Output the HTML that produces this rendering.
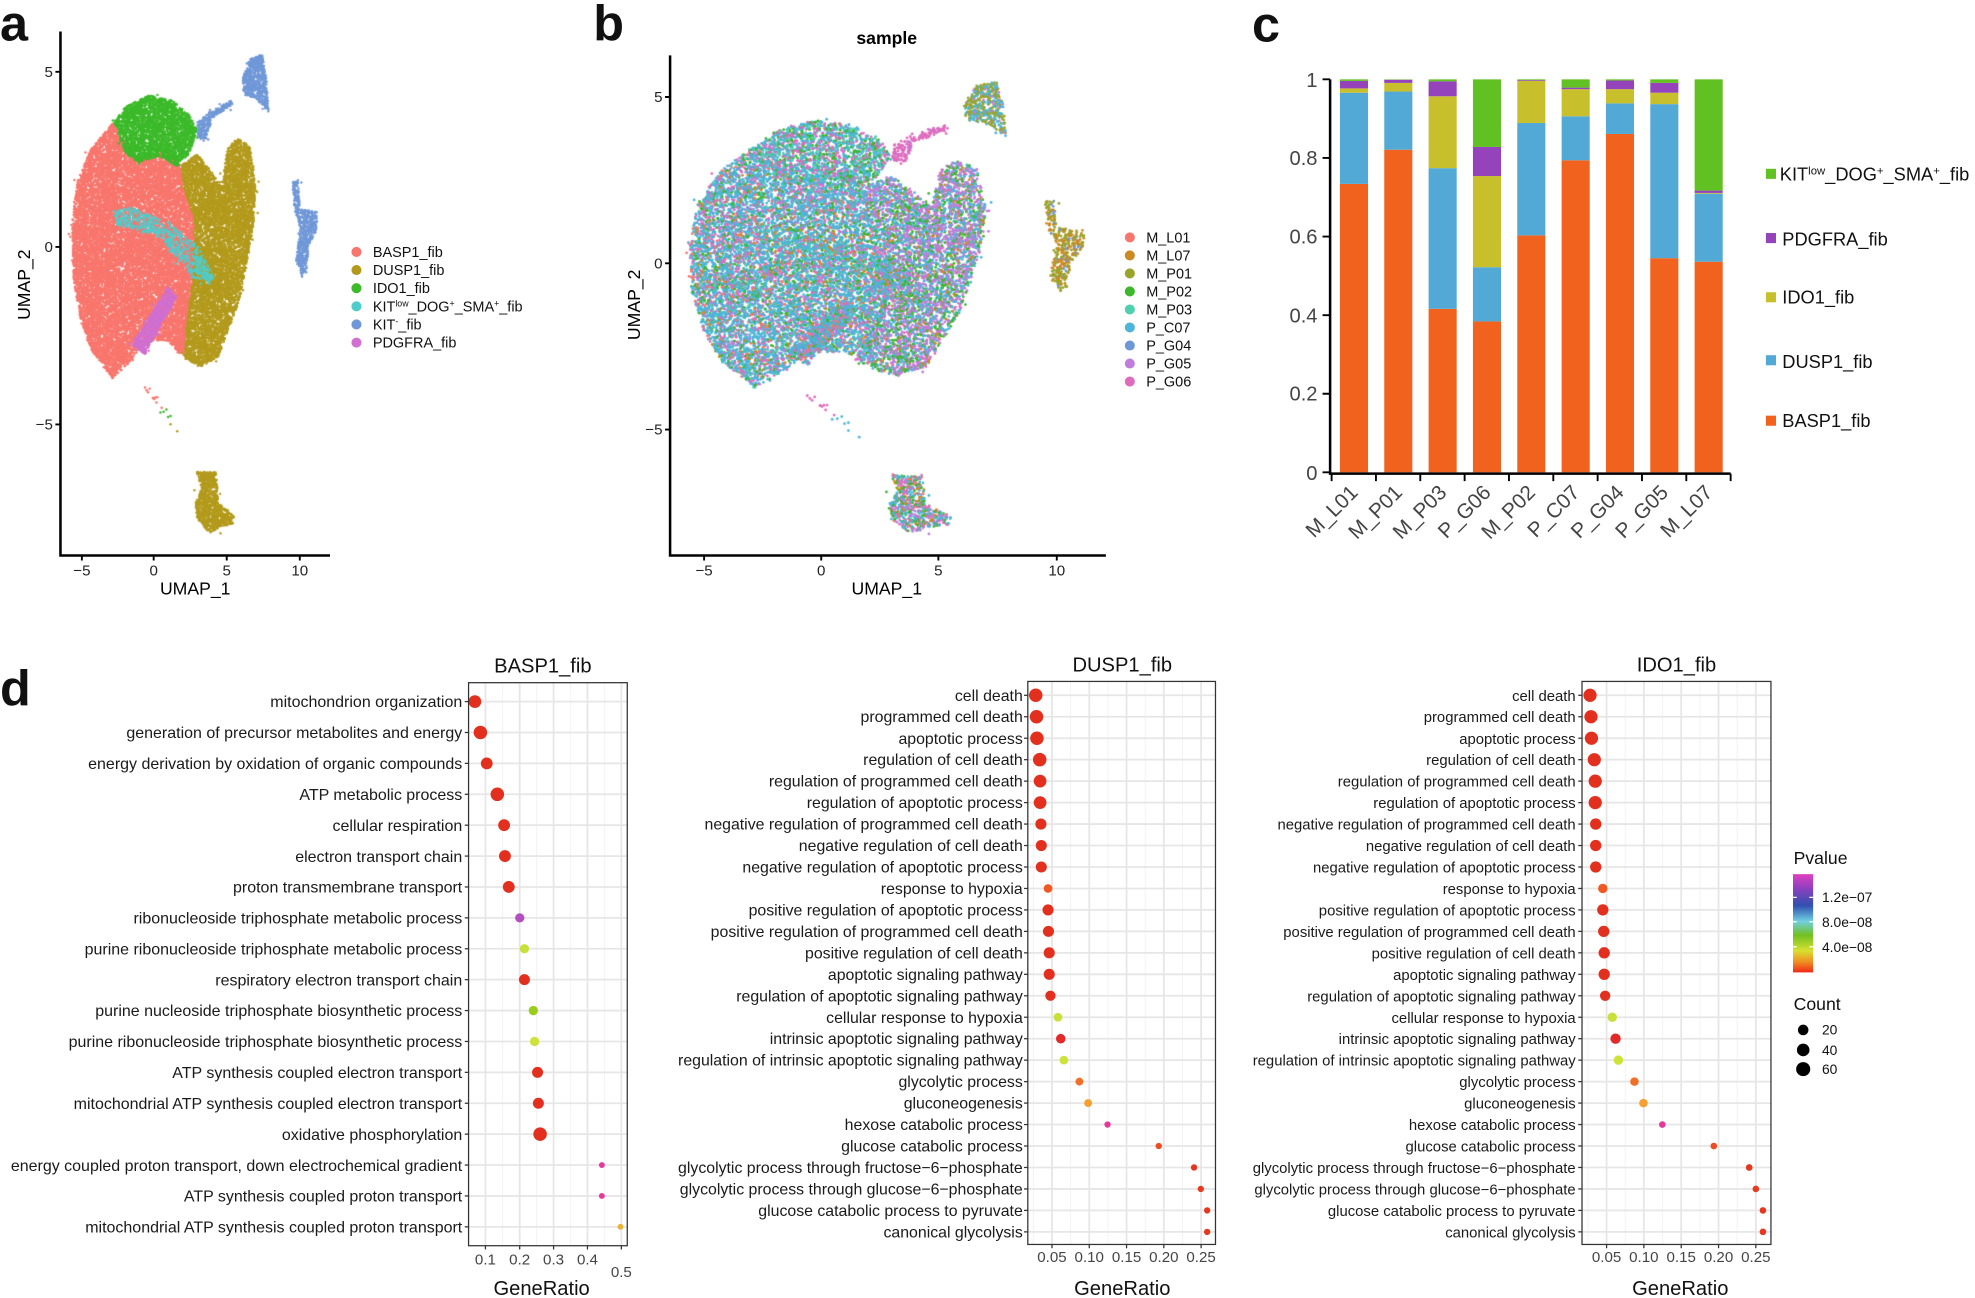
<!DOCTYPE html>
<html><head><meta charset="utf-8">
<style>
html,body{margin:0;padding:0;background:#fff;}
#wrap{position:relative;width:1975px;height:1298px;overflow:hidden;}
canvas,svg{position:absolute;left:0;top:0;}
text{font-family:"Liberation Sans",Arial,sans-serif;}
</style></head><body>
<div id="wrap">
<canvas id="cv" width="1975" height="1298"></canvas>
<svg id="sv" width="1975" height="1298" viewBox="0 0 1568 1030.5" xmlns="http://www.w3.org/2000/svg">
<defs>
<linearGradient id="pg" x1="0" y1="0" x2="0" y2="1">
<stop offset="0" stop-color="#e040c0"/><stop offset="0.15" stop-color="#8a40c0"/><stop offset="0.32" stop-color="#3050b0"/>
<stop offset="0.48" stop-color="#70d0e0"/><stop offset="0.62" stop-color="#70c020"/><stop offset="0.78" stop-color="#d8e030"/>
<stop offset="0.9" stop-color="#f08a20"/><stop offset="1" stop-color="#f02818"/>
</linearGradient>
</defs>
<g font-weight="bold" font-size="40" fill="#111">
<text x="0" y="32">a</text><text x="471" y="32">b</text><text x="994" y="33">c</text><text x="0" y="560">d</text>
</g>
<g stroke="#000" stroke-width="2" fill="none">
<path d="M48,25 V441 H262"/>
<path d="M44,57H48M44,196H48M44,337H48M65,441V445M122,441V445M180,441V445M238,441V445" stroke-width="1.5"/>
</g>
<g font-size="12" fill="#222" text-anchor="end">
<text x="42" y="61">5</text><text x="42" y="200">0</text><text x="42" y="341">−5</text></g>
<g font-size="12" fill="#222" text-anchor="middle">
<text x="65" y="457">−5</text><text x="122" y="457">0</text><text x="180" y="457">5</text><text x="238" y="457">10</text></g>
<text x="155" y="472" font-size="14" text-anchor="middle">UMAP_1</text>
<text transform="translate(24,226) rotate(-90)" font-size="14" text-anchor="middle">UMAP_2</text>
<g font-size="11.5" fill="#111">
<circle cx="283" cy="200" r="4" fill="#f8766d"/><text x="296" y="204">BASP1_fib</text>
<circle cx="283" cy="214.4" r="4" fill="#b39a1c"/><text x="296" y="218.4">DUSP1_fib</text>
<circle cx="283" cy="228.8" r="4" fill="#3cba2a"/><text x="296" y="232.8">IDO1_fib</text>
<circle cx="283" cy="243.2" r="4" fill="#50cccc"/><text x="296" y="247.2">KIT<tspan font-size="7" dy="-4">low</tspan><tspan dy="4">_DOG</tspan><tspan font-size="7" dy="-4">+</tspan><tspan dy="4">_SMA</tspan><tspan font-size="7" dy="-4">+</tspan><tspan dy="4">_fib</tspan></text>
<circle cx="283" cy="257.6" r="4" fill="#7098d8"/><text x="296" y="261.6">KIT<tspan font-size="7" dy="-4">-</tspan><tspan dy="4">_fib</tspan></text>
<circle cx="283" cy="272" r="4" fill="#d070d0"/><text x="296" y="276">PDGFRA_fib</text>
</g>
<text x="704" y="35" font-size="14" font-weight="bold" text-anchor="middle">sample</text>
<g stroke="#000" stroke-width="2" fill="none">
<path d="M532,44 V441 H878"/>
<path d="M528,77H532M528,209H532M528,341H532M559,441V445M652,441V445M745,441V445M839,441V445" stroke-width="1.5"/>
</g>
<g font-size="12" fill="#222" text-anchor="end">
<text x="526" y="81">5</text><text x="526" y="213">0</text><text x="526" y="345">−5</text></g>
<g font-size="12" fill="#222" text-anchor="middle">
<text x="559" y="457">−5</text><text x="652" y="457">0</text><text x="745" y="457">5</text><text x="839" y="457">10</text></g>
<text x="704" y="472" font-size="14" text-anchor="middle">UMAP_1</text>
<text transform="translate(508,242) rotate(-90)" font-size="14" text-anchor="middle">UMAP_2</text>
<g font-size="11.5" fill="#111">
<circle cx="897" cy="188.5" r="4" fill="#f8766d"/><text x="910" y="192.5">M_L01</text>
<circle cx="897" cy="202.8" r="4" fill="#cc8a22"/><text x="910" y="206.8">M_L07</text>
<circle cx="897" cy="217.1" r="4" fill="#9aa32a"/><text x="910" y="221.1">M_P01</text>
<circle cx="897" cy="231.4" r="4" fill="#3cb82a"/><text x="910" y="235.4">M_P02</text>
<circle cx="897" cy="245.7" r="4" fill="#4fd0b0"/><text x="910" y="249.7">M_P03</text>
<circle cx="897" cy="260" r="4" fill="#4bb6d8"/><text x="910" y="264">P_C07</text>
<circle cx="897" cy="274.3" r="4" fill="#6d97d5"/><text x="910" y="278.3">P_G04</text>
<circle cx="897" cy="288.6" r="4" fill="#c07ddc"/><text x="910" y="292.6">P_G05</text>
<circle cx="897" cy="302.9" r="4" fill="#e06bbd"/><text x="910" y="306.9">P_G06</text>
</g>
<g id="bars"></g>
<g stroke="#000" stroke-width="2" fill="none">
<path d="M1056,63 V376 H1374"/>
<path d="M1050,63H1056M1050,125.4H1056M1050,187.8H1056M1050,250.2H1056M1050,312.6H1056M1050,375H1056
M1057.2,376V382M1092.4,376V382M1127.6,376V382M1162.8,376V382M1198,376V382M1233.2,376V382M1268.4,376V382M1303.6,376V382M1338.8,376V382M1374,376V382" stroke-width="1.5"/>
</g>
<g font-size="16" fill="#444" text-anchor="end">
<text x="1046" y="69">1</text><text x="1046" y="131">0.8</text><text x="1046" y="193.5">0.6</text><text x="1046" y="256">0.4</text><text x="1046" y="318">0.2</text><text x="1046" y="381">0</text>
</g>
<g font-size="16.5" fill="#444" text-anchor="end">
<text transform="translate(1079,392) rotate(-45)">M_L01</text>
<text transform="translate(1114.2,392) rotate(-45)">M_P01</text>
<text transform="translate(1149.4,392) rotate(-45)">M_P03</text>
<text transform="translate(1184.6,392) rotate(-45)">P_G06</text>
<text transform="translate(1219.8,392) rotate(-45)">M_P02</text>
<text transform="translate(1255,392) rotate(-45)">P_C07</text>
<text transform="translate(1290.2,392) rotate(-45)">P_G04</text>
<text transform="translate(1325.4,392) rotate(-45)">P_G05</text>
<text transform="translate(1360.6,392) rotate(-45)">M_L07</text>
</g>
<g font-size="14.5" fill="#111">
<rect x="1402" y="134" width="8" height="8" fill="#62c122"/><text x="1413" y="143.5">KIT<tspan font-size="9" dy="-5">low</tspan><tspan dy="5">_DOG</tspan><tspan font-size="9" dy="-5">+</tspan><tspan dy="5">_SMA</tspan><tspan font-size="9" dy="-5">+</tspan><tspan dy="5">_fib</tspan></text>
<rect x="1402" y="185" width="8" height="8" fill="#9543bb"/><text x="1415" y="195">PDGFRA_fib</text>
<rect x="1402" y="232" width="8" height="8" fill="#c8bf2c"/><text x="1415" y="241">IDO1_fib</text>
<rect x="1402" y="282" width="8" height="8" fill="#52a9d6"/><text x="1415" y="292">DUSP1_fib</text>
<rect x="1402" y="330" width="8" height="8" fill="#f0621e"/><text x="1415" y="339">BASP1_fib</text>
</g>
<g id="dplots"></g>
<g font-size="16" fill="#111" text-anchor="middle">
<text x="431" y="534">BASP1_fib</text><text x="891" y="533">DUSP1_fib</text><text x="1331" y="533">IDO1_fib</text>
<text x="430" y="1028">GeneRatio</text><text x="891" y="1028">GeneRatio</text><text x="1334" y="1028">GeneRatio</text>
</g>
<g font-size="12" fill="#444" text-anchor="middle">
<text x="385.4" y="1004">0.1</text><text x="412.6" y="1004">0.2</text><text x="439.5" y="1004">0.3</text><text x="466.4" y="1004">0.4</text><text x="493.3" y="1014">0.5</text>
<text x="835.2" y="1002">0.05</text><text x="864.8" y="1002">0.10</text><text x="894.4" y="1002">0.15</text><text x="924" y="1002">0.20</text><text x="953.6" y="1002">0.25</text>
<text x="1275.5" y="1002">0.05</text><text x="1305.1" y="1002">0.10</text><text x="1334.75" y="1002">0.15</text><text x="1364.4" y="1002">0.20</text><text x="1394" y="1002">0.25</text>
</g>
<g font-size="12.7" fill="#1a1a1a" text-anchor="end">
<text x="367" y="561.5">mitochondrion organization</text>
<text x="367" y="586">generation of precursor metabolites and energy</text>
<text x="367" y="610.6">energy derivation by oxidation of organic compounds</text>
<text x="367" y="635.1">ATP metabolic process</text>
<text x="367" y="659.6">cellular respiration</text>
<text x="367" y="684.2">electron transport chain</text>
<text x="367" y="708.7">proton transmembrane transport</text>
<text x="367" y="733.2">ribonucleoside triphosphate metabolic process</text>
<text x="367" y="757.7">purine ribonucleoside triphosphate metabolic process</text>
<text x="367" y="782.3">respiratory electron transport chain</text>
<text x="367" y="806.8">purine nucleoside triphosphate biosynthetic process</text>
<text x="367" y="831.3">purine ribonucleoside triphosphate biosynthetic process</text>
<text x="367" y="855.9">ATP synthesis coupled electron transport</text>
<text x="367" y="880.4">mitochondrial ATP synthesis coupled electron transport</text>
<text x="367" y="904.9">oxidative phosphorylation</text>
<text x="367" y="929.5">energy coupled proton transport, down electrochemical gradient</text>
<text x="367" y="954">ATP synthesis coupled proton transport</text>
<text x="367" y="978.5">mitochondrial ATP synthesis coupled proton transport</text>
</g>
<g font-size="12.6" fill="#1a1a1a" text-anchor="end">
<text x="812" y="556.4">cell death</text>
<text x="812" y="573.4">programmed cell death</text>
<text x="812" y="590.5">apoptotic process</text>
<text x="812" y="607.5">regulation of cell death</text>
<text x="812" y="624.6">regulation of programmed cell death</text>
<text x="812" y="641.6">regulation of apoptotic process</text>
<text x="812" y="658.6">negative regulation of programmed cell death</text>
<text x="812" y="675.7">negative regulation of cell death</text>
<text x="812" y="692.7">negative regulation of apoptotic process</text>
<text x="812" y="709.8">response to hypoxia</text>
<text x="812" y="726.8">positive regulation of apoptotic process</text>
<text x="812" y="743.8">positive regulation of programmed cell death</text>
<text x="812" y="760.9">positive regulation of cell death</text>
<text x="812" y="777.9">apoptotic signaling pathway</text>
<text x="812" y="795">regulation of apoptotic signaling pathway</text>
<text x="812" y="812">cellular response to hypoxia</text>
<text x="812" y="829">intrinsic apoptotic signaling pathway</text>
<text x="812" y="846.1">regulation of intrinsic apoptotic signaling pathway</text>
<text x="812" y="863.1">glycolytic process</text>
<text x="812" y="880.2">gluconeogenesis</text>
<text x="812" y="897.2">hexose catabolic process</text>
<text x="812" y="914.2">glucose catabolic process</text>
<text x="812" y="931.3">glycolytic process through fructose−6−phosphate</text>
<text x="812" y="948.3">glycolytic process through glucose−6−phosphate</text>
<text x="812" y="965.4">glucose catabolic process to pyruvate</text>
<text x="812" y="982.4">canonical glycolysis</text>
</g>
<g font-size="11.8" fill="#1a1a1a" text-anchor="end">
<text x="1251" y="556.4">cell death</text>
<text x="1251" y="573.4">programmed cell death</text>
<text x="1251" y="590.5">apoptotic process</text>
<text x="1251" y="607.5">regulation of cell death</text>
<text x="1251" y="624.6">regulation of programmed cell death</text>
<text x="1251" y="641.6">regulation of apoptotic process</text>
<text x="1251" y="658.6">negative regulation of programmed cell death</text>
<text x="1251" y="675.7">negative regulation of cell death</text>
<text x="1251" y="692.7">negative regulation of apoptotic process</text>
<text x="1251" y="709.8">response to hypoxia</text>
<text x="1251" y="726.8">positive regulation of apoptotic process</text>
<text x="1251" y="743.8">positive regulation of programmed cell death</text>
<text x="1251" y="760.9">positive regulation of cell death</text>
<text x="1251" y="777.9">apoptotic signaling pathway</text>
<text x="1251" y="795">regulation of apoptotic signaling pathway</text>
<text x="1251" y="812">cellular response to hypoxia</text>
<text x="1251" y="829">intrinsic apoptotic signaling pathway</text>
<text x="1251" y="846.1">regulation of intrinsic apoptotic signaling pathway</text>
<text x="1251" y="863.1">glycolytic process</text>
<text x="1251" y="880.2">gluconeogenesis</text>
<text x="1251" y="897.2">hexose catabolic process</text>
<text x="1251" y="914.2">glucose catabolic process</text>
<text x="1251" y="931.3">glycolytic process through fructose−6−phosphate</text>
<text x="1251" y="948.3">glycolytic process through glucose−6−phosphate</text>
<text x="1251" y="965.4">glucose catabolic process to pyruvate</text>
<text x="1251" y="982.4">canonical glycolysis</text>
</g>
<text x="1424" y="686" font-size="14" fill="#111">Pvalue</text>
<rect x="1423.5" y="694" width="16" height="78" fill="url(#pg)"/>
<g stroke="#fff" stroke-width="1"><path d="M1423.5,712.4h3M1436.5,712.4h3M1423.5,731.8h3M1436.5,731.8h3M1423.5,751.6h3M1436.5,751.6h3"/></g>
<g font-size="11" fill="#111"><text x="1446.5" y="716">1.2e−07</text><text x="1446.5" y="736">8.0e−08</text><text x="1446.5" y="756">4.0e−08</text></g>
<text x="1424" y="802" font-size="14" fill="#111">Count</text>
<circle cx="1431.6" cy="817.7" r="4.2" fill="#000"/><circle cx="1431.6" cy="833.6" r="5" fill="#000"/><circle cx="1431.6" cy="848.8" r="5.6" fill="#000"/>
<g font-size="11" fill="#111"><text x="1446.5" y="821.5">20</text><text x="1446.5" y="837.5">40</text><text x="1446.5" y="852.5">60</text></g>
</svg>
</div>
<script>
(function(){
var NS="http://www.w3.org/2000/svg";
function el(p,t,a){var e=document.createElementNS(NS,t);for(var k in a)e.setAttribute(k,a[k]);p.appendChild(e);return e;}
var bars=document.getElementById('bars');
var cols=['#f0621e','#52a9d6','#c8bf2c','#9543bb','#62c122'];
var data=[[0.734,0.966,0.977,0.996],[0.821,0.969,0.991,0.999],[0.416,0.774,0.957,0.995],[0.384,0.522,0.754,0.828],[0.603,0.889,0.996,0.998],[0.794,0.906,0.975,0.979],[0.861,0.939,0.975,0.997],[0.545,0.937,0.966,0.991],[0.536,0.709,0.711,0.717]];
function Y(v){return 375-v*312;}
data.forEach(function(d,i){var x=1063.8+35.2*i;var b=[0].concat(d).concat([1]);
for(var k=0;k<5;k++){var y1=Y(b[k+1]),y0=Y(b[k]);if(y0-y1>0.05)el(bars,'rect',{x:x,y:y1,width:22.3,height:y0-y1,fill:cols[k]});}});
var dp=document.getElementById('dplots');
var R='#e3301e';
function panel(bx0,bx1,by0,by1,ys,major,minor,dots){
el(dp,'rect',{x:bx0,y:by0,width:bx1-bx0,height:by1-by0,fill:'#fff'});
minor.forEach(function(x){el(dp,'line',{x1:x,x2:x,y1:by0,y2:by1,stroke:'#f3f3f3','stroke-width':0.8});});
major.forEach(function(x){el(dp,'line',{x1:x,x2:x,y1:by0,y2:by1,stroke:'#e6e6e6','stroke-width':1.4});
el(dp,'line',{x1:x,x2:x,y1:by1,y2:by1+3,stroke:'#333','stroke-width':1});});
ys.forEach(function(y){el(dp,'line',{x1:bx0,x2:bx1,y1:y,y2:y,stroke:'#e6e6e6','stroke-width':1.4});
el(dp,'line',{x1:bx0-3,x2:bx0,y1:y,y2:y,stroke:'#333','stroke-width':1});});
dots.forEach(function(d,i){el(dp,'circle',{cx:d[0],cy:ys[i],r:d[1],fill:d[2]});});
el(dp,'rect',{x:bx0,y:by0,width:bx1-bx0,height:by1-by0,fill:'none',stroke:'#333','stroke-width':1});}
var ysA=[];for(var i=0;i<18;i++)ysA.push(557+24.53*i);
var zA=[1130,1143,1158,1183,1199,1201,1210,1236,1247,1247,1268,1271,1278,1280,1284,1430,1430,1474];
var rA=[15,16,14,16,14,14,14,11,11,13,11,11,13,13,16,7,7,7];
var cA=[R,R,R,R,R,R,R,'#b44fc0','#c8e03a',R,'#9acd1a','#cde23a',R,R,R,'#e8379a','#e8379a','#e8b53a'];
var dA=zA.map(function(z,i){return[372+(z-1115)*0.336,rA[i]*0.336,cA[i]];});
panel(372,498,542,989,ysA,[385.4,412.6,439.5,466.4,493.3],[372,399,426,453,480],dA);
var ysB=[];for(i=0;i<26;i++)ysB.push(552+17.04*i);
var zB=[955,957,958,965,966,966,968,969,969,986,986,987,989,989,992,1011,1018,1026,1065,1087,1136,1265,1354,1371,1387,1387];
var rB=[17,17,17,17,16,16,14,14,14,11,14,14,14,14,13,11,12,11,10,10,8,8,8,8,8,8];
var cB=[R,R,R,R,R,R,R,R,R,'#f05a22',R,R,R,R,R,'#c9e03a','#e32a2a','#cde33a','#f07028','#f5a030','#e4389b','#ee4b24','#e8351e','#ea3a1e','#e9361e','#e9361e'];
var dB=zB.map(function(z,i){return[816+(z-935)*0.315,rB[i]*0.315,cB[i]];});
panel(816,965,541,988,ysB,[835.2,864.8,894.4,924,953.6],[820.4,850,879.6,909.2,938.8],dB);
var zC=[757,759,760,766,768,768,769,769,769,784,784,786,787,787,789,804,811,817,851,870,910,1019,1094,1108,1123,1123];
var rC=[14,14,14,14,14,14,12,12,12,10,12,12,12,12,11,10,11,10,9,9,7,7,7,7,7,7];
var dC=zC.map(function(z,i){return[1256+(z-740)*0.375,rC[i]*0.375,cB[i]];});
panel(1256,1406,541,988,ysB,[1275.5,1305.1,1334.75,1364.4,1394],[1260.7,1290.3,1320,1349.6,1379.2],dC);

var cv=document.getElementById('cv');var ctx=cv.getContext('2d');ctx.scale(1975/1568,1298/1030.5);
var s=12345;function rnd(){s|=0;s=s+0x6D2B79F5|0;var t=Math.imul(s^s>>>15,1|s);t=t+Math.imul(t^t>>>7,61|t)^t;return((t^t>>>14)>>>0)/4294967296;}
function za(p){return[65+(p[0]-195)*0.3333,57+(p[1]-183)*0.3153];}
function toB(m){return[652+(m[0]-122)/11.55*18.6,209-(196-m[1])/28*26.4];}
function inP(x,y,P){var c=false;for(var i=0,j=P.length-1;i<P.length;j=i++){var xi=P[i][0],yi=P[i][1],xj=P[j][0],yj=P[j][1];if(((yi>y)!=(yj>y))&&(x<(xj-xi)*(y-yi)/(yj-yi)+xi))c=!c;}return c;}
function area(P){var a=0;for(var i=0,j=P.length-1;i<P.length;j=i++)a+=(P[j][0]+P[i][0])*(P[j][1]-P[i][1]);return Math.abs(a/2);}
var mixL=[['#4bb6d8',50],['#e06bbd',14],['#3cb82a',12],['#f8766d',6],['#c07ddc',6],['#4fd0b0',5],['#6d97d5',4],['#cc8a22',3]];
var regions=[
{c:'#f8766d',d:1.0,p:[[270,310],[215,380],[185,460],[172,560],[175,700],[190,800],[215,880],[268,955],[300,925],[330,885],[360,860],[400,860],[440,905],[450,800],[470,680],[465,560],[440,480],[430,420],[400,380],[330,400],[290,350]],b:mixL},
{c:'#b39a1c',d:1.0,p:[[430,420],[470,390],[500,430],[530,470],[540,380],[565,350],[595,370],[608,470],[605,560],[590,650],[570,760],[545,830],[520,900],[480,925],[440,905],[445,820],[460,700],[465,560],[440,480]],
 b:[['#c07ddc',40],['#3cb82a',22],['#4bb6d8',28],['#e06bbd',5],['#cc8a22',5]]},
{c:'#3cba2a',d:1.0,p:[[272,310],[300,270],[355,242],[410,255],[450,290],[470,330],[450,390],[420,420],[380,395],[330,410],[300,390],[285,350]],
 b:[['#4bb6d8',40],['#3cb82a',20],['#e06bbd',25],['#4fd0b0',15]]},
{c:'#50cccc',d:0.35,p:[[270,540],[300,520],[400,560],[470,620],[510,700],[500,720],[460,700],[380,600],[280,570]],b:[['#4fd0b0',30],['#cc8a22',30],['#4bb6d8',40]]},
{c:'#d070d0',d:1.2,p:[[315,870],[345,895],[420,750],[400,725]],b:mixL},
{c:'#7098d8',d:1.0,p:[[578,200],[595,150],[625,140],[635,200],[640,285],[610,250],[580,240]],b:[['#9aa32a',50],['#4bb6d8',40],['#c07ddc',10]]},
{c:'#7098d8',d:0.9,p:[[470,310],[500,285],[550,255],[555,265],[505,300],[490,360],[470,350]],b:[['#e06bbd',90],['#c07ddc',10]]},
{c:'#7098d8',d:0.9,p:[[695,460],[710,455],[715,530],[755,535],[755,580],[735,620],[730,680],[720,700],[705,660],[715,580],[700,520]],b:[['#9aa32a',50],['#cc8a22',35],['#6d97d5',15]]},
{c:'#b39a1c',d:1.0,p:[[468,1190],[515,1190],[520,1270],[560,1300],[555,1320],[525,1330],[500,1345],[470,1310],[465,1270],[480,1230]],
 b:[['#4bb6d8',30],['#3cb82a',20],['#e06bbd',20],['#c07ddc',15],['#cc8a22',10],['#f8766d',5]]}
];
function pick(b){var t=0;b.forEach(function(x){t+=x[1];});var r=rnd()*t;for(var i=0;i<b.length;i++){r-=b[i][1];if(r<=0)return b[i][0];}return b[0][0];}
var ptsB=[];
regions.forEach(function(rg){
 var P=rg.p.map(za);var minx=1e9,maxx=-1e9,miny=1e9,maxy=-1e9;P.forEach(function(q){minx=Math.min(minx,q[0]);maxx=Math.max(maxx,q[0]);miny=Math.min(miny,q[1]);maxy=Math.max(maxy,q[1]);});
 var N=Math.round(area(P)*rg.d*1.1),k=0,tries=0;ctx.fillStyle=rg.c;
 while(k<N&&tries<N*20){tries++;var x=minx+rnd()*(maxx-minx),y=miny+rnd()*(maxy-miny);if(!inP(x,y,P))continue;k++;
  var jx=x,jy=y;if(rnd()<0.04){jx+=(rnd()-0.5)*8;jy+=(rnd()-0.5)*8;}
  ctx.beginPath();ctx.arc(jx,jy,0.95,0,6.283);ctx.fill();
  if(rnd()<0.6){var q=toB([jx,jy]);ptsB.push([q[0]+(rnd()-0.5)*1.5,q[1]+(rnd()-0.5)*1.5,pick(rg.b)]);}
 }
});
for(var i=0;i<18;i++){var t=rnd();var zx=350+t*70+(rnd()-0.5)*20,zy=970+t*120;var m=za([zx,zy]);ctx.fillStyle=t>0.7?'#b39a1c':(t>0.5?'#3cba2a':'#f8766d');ctx.beginPath();ctx.arc(m[0],m[1],1,0,6.283);ctx.fill();
 var q=toB(m);ptsB.push([q[0],q[1],t>0.5?'#4bb6d8':'#e06bbd']);}
for(i=ptsB.length-1;i>0;i--){var j=Math.floor(rnd()*(i+1));var tmp=ptsB[i];ptsB[i]=ptsB[j];ptsB[j]=tmp;}
ptsB.forEach(function(p){ctx.fillStyle=p[2];ctx.beginPath();ctx.arc(p[0],p[1],1.1,0,6.283);ctx.fill();});
})();
</script>
</body></html>
